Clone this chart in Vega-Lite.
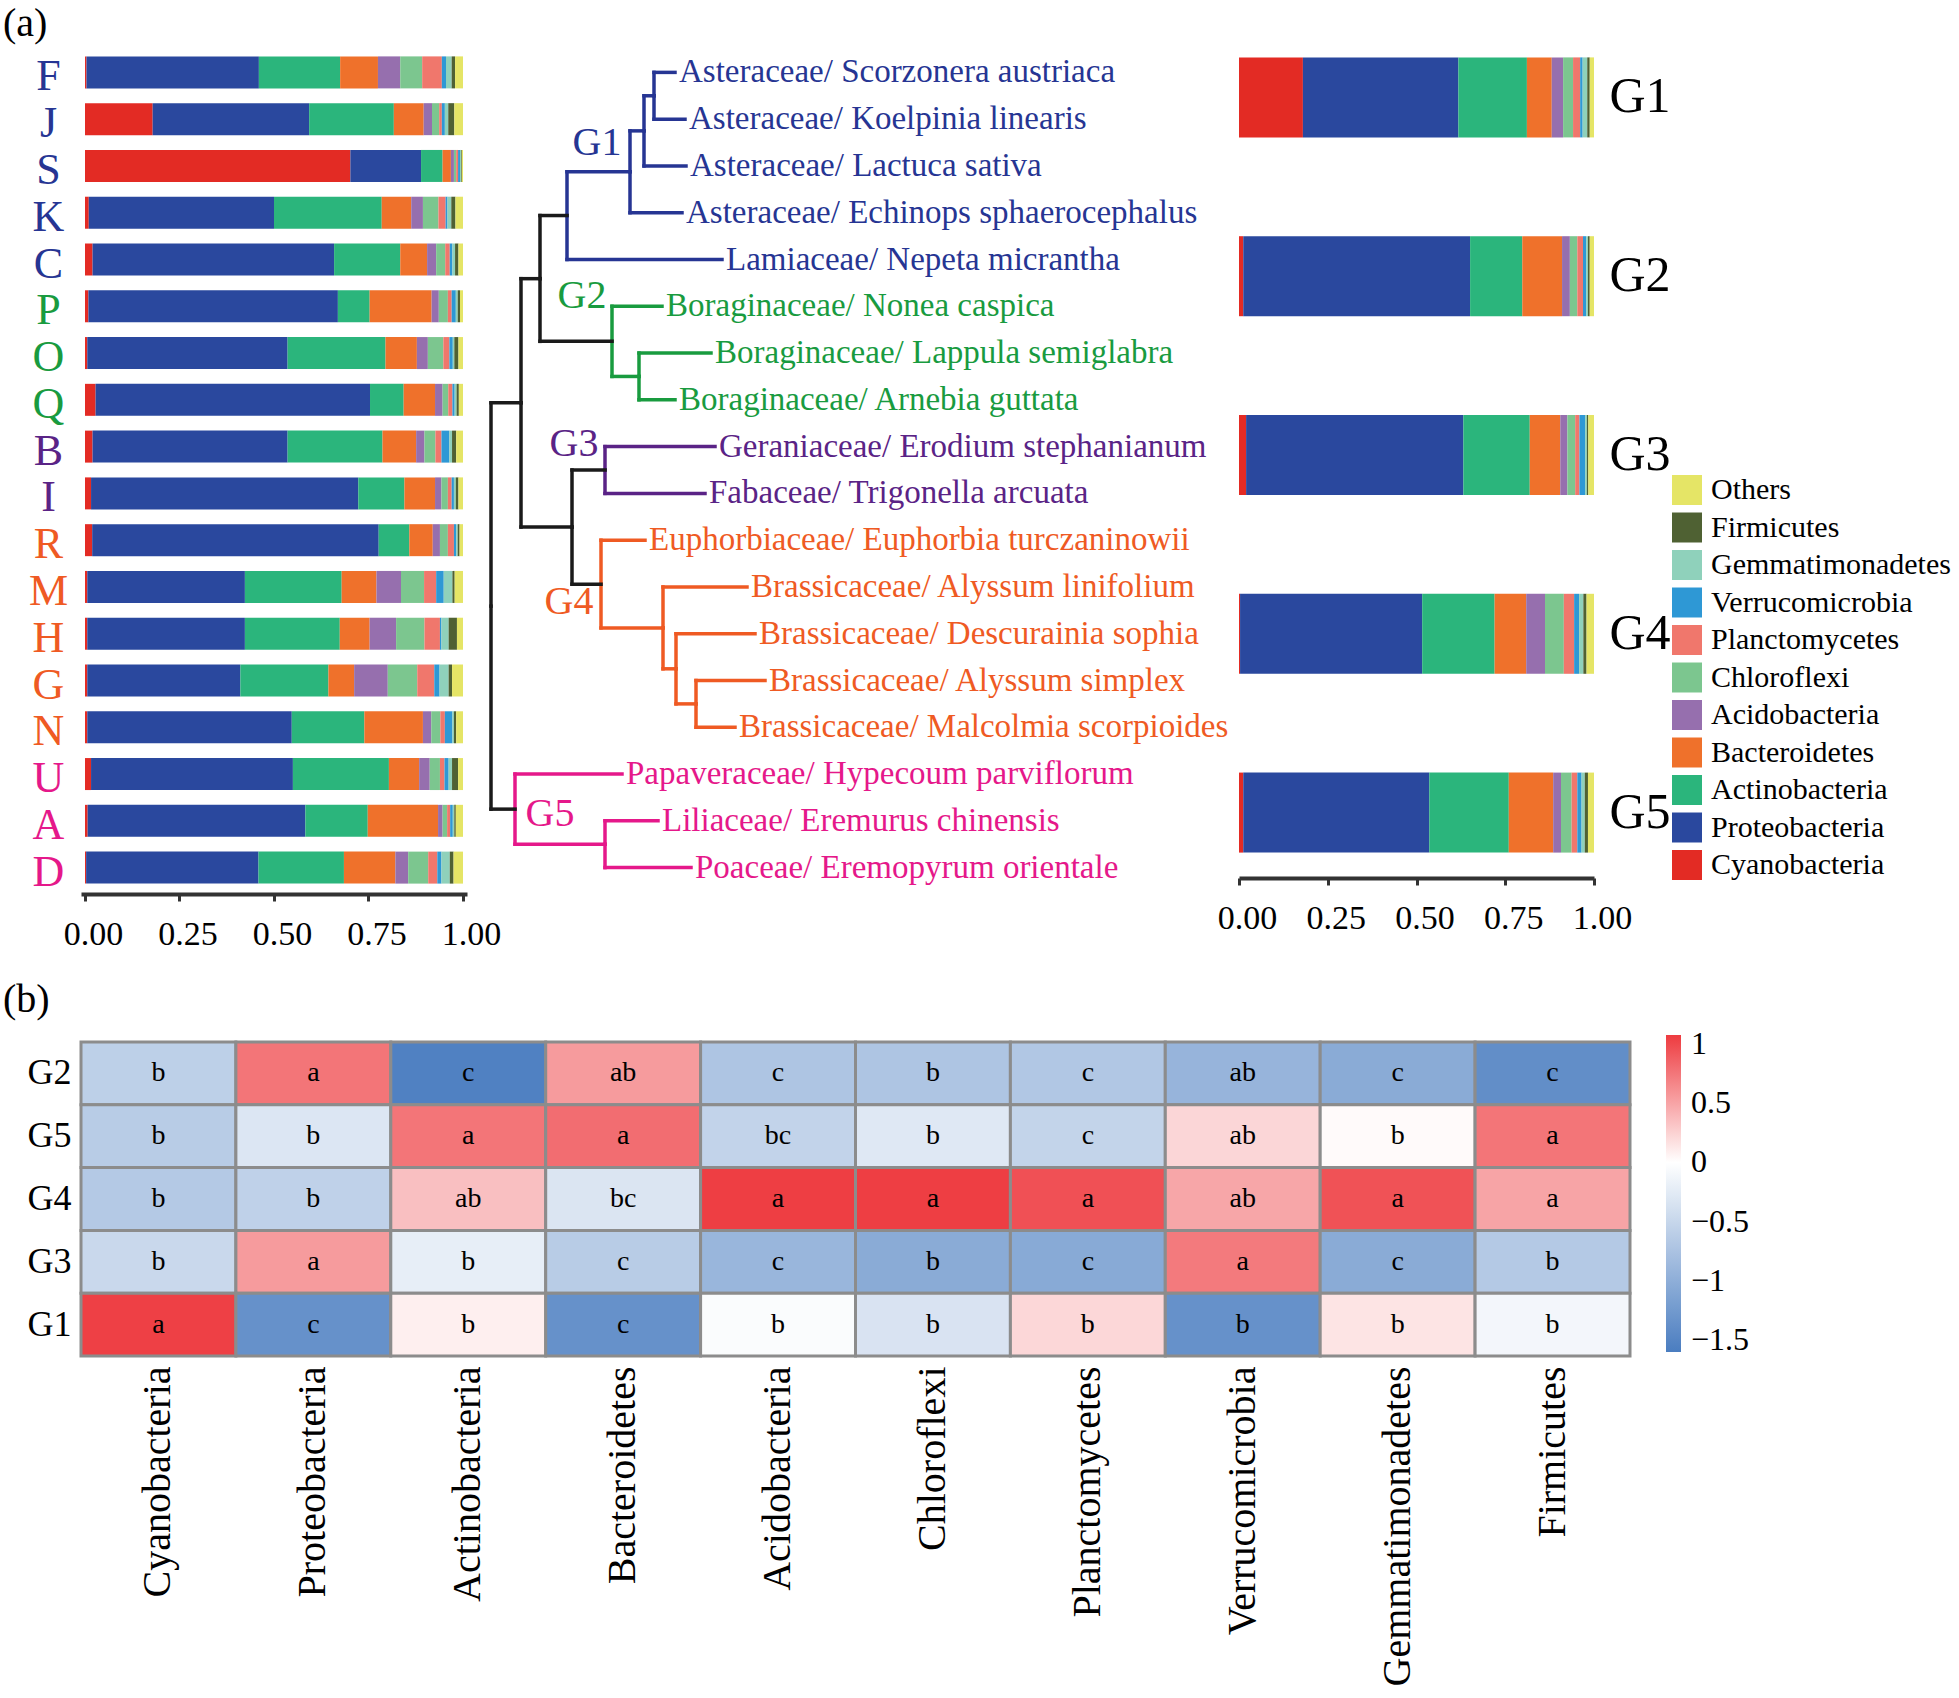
{
 "$schema": "https://vega.github.io/schema/vega-lite/v6.json",
 "background": "white",
 "padding": {"left": 3, "top": 4, "right": 0, "bottom": 0},
 "config": {
  "font": "Liberation Serif",
  "view": {"stroke": null},
  "axis": {"labelFont": "Liberation Serif", "labelColor": "#000000", "grid": false, "labelLimit": 500},
  "legend": {"labelFont": "Liberation Serif", "labelColor": "#000000", "labelLimit": 500},
  "title": {"font": "Liberation Serif", "fontWeight": "normal", "color": "#000000"}
 },
 "datasets": {
  "samples": [
   {"sample":"F","Cyanobacteria":0.004,"Proteobacteria":0.456,"Actinobacteria":0.215,"Bacteroidetes":0.100,"Acidobacteria":0.059,"Chloroflexi":0.058,"Planctomycetes":0.052,"Verrucomicrobia":0.011,"Gemmatimonadetes":0.015,"Firmicutes":0.009,"Others":0.021},
   {"sample":"J","Cyanobacteria":0.179,"Proteobacteria":0.414,"Actinobacteria":0.224,"Bacteroidetes":0.079,"Acidobacteria":0.022,"Chloroflexi":0.019,"Planctomycetes":0.007,"Verrucomicrobia":0.008,"Gemmatimonadetes":0.009,"Firmicutes":0.016,"Others":0.023},
   {"sample":"S","Cyanobacteria":0.702,"Proteobacteria":0.187,"Actinobacteria":0.057,"Bacteroidetes":0.022,"Acidobacteria":0.008,"Chloroflexi":0.006,"Planctomycetes":0.005,"Verrucomicrobia":0.005,"Gemmatimonadetes":0.003,"Firmicutes":0.002,"Others":0.003},
   {"sample":"K","Cyanobacteria":0.010,"Proteobacteria":0.490,"Actinobacteria":0.285,"Bacteroidetes":0.078,"Acidobacteria":0.031,"Chloroflexi":0.041,"Planctomycetes":0.019,"Verrucomicrobia":0.005,"Gemmatimonadetes":0.010,"Firmicutes":0.011,"Others":0.020},
   {"sample":"C","Cyanobacteria":0.020,"Proteobacteria":0.639,"Actinobacteria":0.175,"Bacteroidetes":0.071,"Acidobacteria":0.024,"Chloroflexi":0.024,"Planctomycetes":0.012,"Verrucomicrobia":0.007,"Gemmatimonadetes":0.007,"Firmicutes":0.009,"Others":0.012},
   {"sample":"P","Cyanobacteria":0.009,"Proteobacteria":0.660,"Actinobacteria":0.084,"Bacteroidetes":0.164,"Acidobacteria":0.019,"Chloroflexi":0.024,"Planctomycetes":0.010,"Verrucomicrobia":0.011,"Gemmatimonadetes":0.005,"Firmicutes":0.006,"Others":0.008},
   {"sample":"O","Cyanobacteria":0.006,"Proteobacteria":0.530,"Actinobacteria":0.259,"Bacteroidetes":0.083,"Acidobacteria":0.029,"Chloroflexi":0.041,"Planctomycetes":0.016,"Verrucomicrobia":0.009,"Gemmatimonadetes":0.004,"Firmicutes":0.011,"Others":0.012},
   {"sample":"Q","Cyanobacteria":0.028,"Proteobacteria":0.726,"Actinobacteria":0.089,"Bacteroidetes":0.083,"Acidobacteria":0.020,"Chloroflexi":0.015,"Planctomycetes":0.011,"Verrucomicrobia":0.006,"Gemmatimonadetes":0.005,"Firmicutes":0.006,"Others":0.011},
   {"sample":"B","Cyanobacteria":0.020,"Proteobacteria":0.516,"Actinobacteria":0.251,"Bacteroidetes":0.089,"Acidobacteria":0.022,"Chloroflexi":0.029,"Planctomycetes":0.016,"Verrucomicrobia":0.021,"Gemmatimonadetes":0.007,"Firmicutes":0.011,"Others":0.018},
   {"sample":"I","Cyanobacteria":0.016,"Proteobacteria":0.707,"Actinobacteria":0.122,"Bacteroidetes":0.081,"Acidobacteria":0.017,"Chloroflexi":0.017,"Planctomycetes":0.010,"Verrucomicrobia":0.006,"Gemmatimonadetes":0.005,"Firmicutes":0.007,"Others":0.012},
   {"sample":"R","Cyanobacteria":0.019,"Proteobacteria":0.758,"Actinobacteria":0.081,"Bacteroidetes":0.062,"Acidobacteria":0.019,"Chloroflexi":0.021,"Planctomycetes":0.016,"Verrucomicrobia":0.006,"Gemmatimonadetes":0.004,"Firmicutes":0.005,"Others":0.009},
   {"sample":"M","Cyanobacteria":0.006,"Proteobacteria":0.417,"Actinobacteria":0.256,"Bacteroidetes":0.092,"Acidobacteria":0.065,"Chloroflexi":0.061,"Planctomycetes":0.032,"Verrucomicrobia":0.020,"Gemmatimonadetes":0.023,"Firmicutes":0.006,"Others":0.022},
   {"sample":"H","Cyanobacteria":0.006,"Proteobacteria":0.417,"Actinobacteria":0.251,"Bacteroidetes":0.079,"Acidobacteria":0.070,"Chloroflexi":0.075,"Planctomycetes":0.041,"Verrucomicrobia":0.004,"Gemmatimonadetes":0.019,"Firmicutes":0.022,"Others":0.016},
   {"sample":"G","Cyanobacteria":0.006,"Proteobacteria":0.405,"Actinobacteria":0.233,"Bacteroidetes":0.068,"Acidobacteria":0.089,"Chloroflexi":0.078,"Planctomycetes":0.045,"Verrucomicrobia":0.014,"Gemmatimonadetes":0.024,"Firmicutes":0.009,"Others":0.029},
   {"sample":"N","Cyanobacteria":0.006,"Proteobacteria":0.541,"Actinobacteria":0.192,"Bacteroidetes":0.155,"Acidobacteria":0.022,"Chloroflexi":0.024,"Planctomycetes":0.012,"Verrucomicrobia":0.020,"Gemmatimonadetes":0.004,"Firmicutes":0.006,"Others":0.018},
   {"sample":"U","Cyanobacteria":0.016,"Proteobacteria":0.534,"Actinobacteria":0.254,"Bacteroidetes":0.080,"Acidobacteria":0.028,"Chloroflexi":0.027,"Planctomycetes":0.012,"Verrucomicrobia":0.011,"Gemmatimonadetes":0.009,"Firmicutes":0.016,"Others":0.013},
   {"sample":"A","Cyanobacteria":0.007,"Proteobacteria":0.576,"Actinobacteria":0.165,"Bacteroidetes":0.186,"Acidobacteria":0.012,"Chloroflexi":0.012,"Planctomycetes":0.008,"Verrucomicrobia":0.007,"Gemmatimonadetes":0.004,"Firmicutes":0.004,"Others":0.019},
   {"sample":"D","Cyanobacteria":0.003,"Proteobacteria":0.456,"Actinobacteria":0.226,"Bacteroidetes":0.136,"Acidobacteria":0.034,"Chloroflexi":0.053,"Planctomycetes":0.024,"Verrucomicrobia":0.011,"Gemmatimonadetes":0.022,"Firmicutes":0.010,"Others":0.025}
  ],
  "groups": [
   {"group":"G1","Cyanobacteria":0.180,"Proteobacteria":0.438,"Actinobacteria":0.193,"Bacteroidetes":0.070,"Acidobacteria":0.032,"Chloroflexi":0.028,"Planctomycetes":0.020,"Verrucomicrobia":0.007,"Gemmatimonadetes":0.013,"Firmicutes":0.007,"Others":0.012},
   {"group":"G2","Cyanobacteria":0.012,"Proteobacteria":0.639,"Actinobacteria":0.147,"Bacteroidetes":0.112,"Acidobacteria":0.022,"Chloroflexi":0.021,"Planctomycetes":0.016,"Verrucomicrobia":0.009,"Gemmatimonadetes":0.005,"Firmicutes":0.005,"Others":0.012},
   {"group":"G3","Cyanobacteria":0.020,"Proteobacteria":0.612,"Actinobacteria":0.187,"Bacteroidetes":0.086,"Acidobacteria":0.020,"Chloroflexi":0.022,"Planctomycetes":0.012,"Verrucomicrobia":0.016,"Gemmatimonadetes":0.005,"Firmicutes":0.004,"Others":0.016},
   {"group":"G4","Cyanobacteria":0.003,"Proteobacteria":0.513,"Actinobacteria":0.204,"Bacteroidetes":0.089,"Acidobacteria":0.053,"Chloroflexi":0.053,"Planctomycetes":0.029,"Verrucomicrobia":0.014,"Gemmatimonadetes":0.012,"Firmicutes":0.009,"Others":0.021},
   {"group":"G5","Cyanobacteria":0.012,"Proteobacteria":0.524,"Actinobacteria":0.224,"Bacteroidetes":0.125,"Acidobacteria":0.022,"Chloroflexi":0.030,"Planctomycetes":0.016,"Verrucomicrobia":0.012,"Gemmatimonadetes":0.009,"Firmicutes":0.009,"Others":0.017}
  ],
  "tree": [
   {"parentHeight":0,"parentOrder":11.41,"childHeight":30,"childOrder":7.065,"clade":"root"},
   {"parentHeight":0,"parentOrder":11.41,"childHeight":24,"childOrder":15.75,"clade":"root"},
   {"parentHeight":30,"parentOrder":7.065,"childHeight":49,"childOrder":4.41,"clade":"root"},
   {"parentHeight":30,"parentOrder":7.065,"childHeight":81,"childOrder":9.72,"clade":"root"},
   {"parentHeight":49,"parentOrder":4.41,"childHeight":76,"childOrder":3.06,"clade":"root"},
   {"parentHeight":49,"parentOrder":4.41,"childHeight":121,"childOrder":5.75,"clade":"root"},
   {"parentHeight":76,"parentOrder":3.06,"childHeight":139,"childOrder":2.125,"clade":"G1"},
   {"parentHeight":76,"parentOrder":3.06,"childHeight":231,"childOrder":4,"clade":"G1","label":"Lamiaceae/ Nepeta micrantha"},
   {"parentHeight":139,"parentOrder":2.125,"childHeight":153,"childOrder":1.25,"clade":"G1"},
   {"parentHeight":139,"parentOrder":2.125,"childHeight":191,"childOrder":3,"clade":"G1","label":"Asteraceae/ Echinops sphaerocephalus"},
   {"parentHeight":153,"parentOrder":1.25,"childHeight":163,"childOrder":0.5,"clade":"G1"},
   {"parentHeight":153,"parentOrder":1.25,"childHeight":195,"childOrder":2,"clade":"G1","label":"Asteraceae/ Lactuca sativa"},
   {"parentHeight":163,"parentOrder":0.5,"childHeight":184,"childOrder":0,"clade":"G1","label":"Asteraceae/ Scorzonera austriaca"},
   {"parentHeight":163,"parentOrder":0.5,"childHeight":194,"childOrder":1,"clade":"G1","label":"Asteraceae/ Koelpinia linearis"},
   {"parentHeight":121,"parentOrder":5.75,"childHeight":171,"childOrder":5,"clade":"G2","label":"Boraginaceae/ Nonea caspica"},
   {"parentHeight":121,"parentOrder":5.75,"childHeight":148,"childOrder":6.5,"clade":"G2"},
   {"parentHeight":148,"parentOrder":6.5,"childHeight":220,"childOrder":6,"clade":"G2","label":"Boraginaceae/ Lappula semiglabra"},
   {"parentHeight":148,"parentOrder":6.5,"childHeight":184,"childOrder":7,"clade":"G2","label":"Boraginaceae/ Arnebia guttata"},
   {"parentHeight":81,"parentOrder":9.72,"childHeight":114,"childOrder":8.5,"clade":"root"},
   {"parentHeight":81,"parentOrder":9.72,"childHeight":110,"childOrder":10.94,"clade":"root"},
   {"parentHeight":114,"parentOrder":8.5,"childHeight":224,"childOrder":8,"clade":"G3","label":"Geraniaceae/ Erodium stephanianum"},
   {"parentHeight":114,"parentOrder":8.5,"childHeight":214,"childOrder":9,"clade":"G3","label":"Fabaceae/ Trigonella arcuata"},
   {"parentHeight":110,"parentOrder":10.94,"childHeight":154,"childOrder":10,"clade":"G4","label":"Euphorbiaceae/ Euphorbia turczaninowii"},
   {"parentHeight":110,"parentOrder":10.94,"childHeight":172,"childOrder":11.875,"clade":"G4"},
   {"parentHeight":172,"parentOrder":11.875,"childHeight":256,"childOrder":11,"clade":"G4","label":"Brassicaceae/ Alyssum linifolium"},
   {"parentHeight":172,"parentOrder":11.875,"childHeight":185,"childOrder":12.75,"clade":"G4"},
   {"parentHeight":185,"parentOrder":12.75,"childHeight":264,"childOrder":12,"clade":"G4","label":"Brassicaceae/ Descurainia sophia"},
   {"parentHeight":185,"parentOrder":12.75,"childHeight":205,"childOrder":13.5,"clade":"G4"},
   {"parentHeight":205,"parentOrder":13.5,"childHeight":274,"childOrder":13,"clade":"G4","label":"Brassicaceae/ Alyssum simplex"},
   {"parentHeight":205,"parentOrder":13.5,"childHeight":244,"childOrder":14,"clade":"G4","label":"Brassicaceae/ Malcolmia scorpioides"},
   {"parentHeight":24,"parentOrder":15.75,"childHeight":131,"childOrder":15,"clade":"G5","label":"Papaveraceae/ Hypecoum parviflorum"},
   {"parentHeight":24,"parentOrder":15.75,"childHeight":114,"childOrder":16.5,"clade":"G5"},
   {"parentHeight":114,"parentOrder":16.5,"childHeight":167,"childOrder":16,"clade":"G5","label":"Liliaceae/ Eremurus chinensis"},
   {"parentHeight":114,"parentOrder":16.5,"childHeight":200,"childOrder":17,"clade":"G5","label":"Poaceae/ Eremopyrum orientale"}
  ],
  "heat": [
   {"group":"G2","phylum":"Cyanobacteria","z":-0.58,"sig":"b"},
   {"group":"G2","phylum":"Proteobacteria","z":0.76,"sig":"a"},
   {"group":"G2","phylum":"Actinobacteria","z":-1.55,"sig":"c"},
   {"group":"G2","phylum":"Bacteroidetes","z":0.55,"sig":"ab"},
   {"group":"G2","phylum":"Acidobacteria","z":-0.72,"sig":"c"},
   {"group":"G2","phylum":"Chloroflexi","z":-0.72,"sig":"b"},
   {"group":"G2","phylum":"Planctomycetes","z":-0.69,"sig":"c"},
   {"group":"G2","phylum":"Verrucomicrobia","z":-0.92,"sig":"ab"},
   {"group":"G2","phylum":"Gemmatimonadetes","z":-1.03,"sig":"c"},
   {"group":"G2","phylum":"Firmicutes","z":-1.39,"sig":"c"},
   {"group":"G5","phylum":"Cyanobacteria","z":-0.63,"sig":"b"},
   {"group":"G5","phylum":"Proteobacteria","z":-0.31,"sig":"b"},
   {"group":"G5","phylum":"Actinobacteria","z":0.76,"sig":"a"},
   {"group":"G5","phylum":"Bacteroidetes","z":0.80,"sig":"a"},
   {"group":"G5","phylum":"Acidobacteria","z":-0.54,"sig":"bc"},
   {"group":"G5","phylum":"Chloroflexi","z":-0.28,"sig":"b"},
   {"group":"G5","phylum":"Planctomycetes","z":-0.53,"sig":"c"},
   {"group":"G5","phylum":"Verrucomicrobia","z":0.225,"sig":"ab"},
   {"group":"G5","phylum":"Gemmatimonadetes","z":0.03,"sig":"b"},
   {"group":"G5","phylum":"Firmicutes","z":0.76,"sig":"a"},
   {"group":"G4","phylum":"Cyanobacteria","z":-0.66,"sig":"b"},
   {"group":"G4","phylum":"Proteobacteria","z":-0.57,"sig":"b"},
   {"group":"G4","phylum":"Actinobacteria","z":0.35,"sig":"ab"},
   {"group":"G4","phylum":"Bacteroidetes","z":-0.32,"sig":"bc"},
   {"group":"G4","phylum":"Acidobacteria","z":1.06,"sig":"a"},
   {"group":"G4","phylum":"Chloroflexi","z":1.06,"sig":"a"},
   {"group":"G4","phylum":"Planctomycetes","z":0.96,"sig":"a"},
   {"group":"G4","phylum":"Verrucomicrobia","z":0.49,"sig":"ab"},
   {"group":"G4","phylum":"Gemmatimonadetes","z":0.95,"sig":"a"},
   {"group":"G4","phylum":"Firmicutes","z":0.50,"sig":"a"},
   {"group":"G3","phylum":"Cyanobacteria","z":-0.48,"sig":"b"},
   {"group":"G3","phylum":"Proteobacteria","z":0.55,"sig":"a"},
   {"group":"G3","phylum":"Actinobacteria","z":-0.21,"sig":"b"},
   {"group":"G3","phylum":"Bacteroidetes","z":-0.63,"sig":"c"},
   {"group":"G3","phylum":"Acidobacteria","z":-0.90,"sig":"c"},
   {"group":"G3","phylum":"Chloroflexi","z":-1.03,"sig":"b"},
   {"group":"G3","phylum":"Planctomycetes","z":-1.05,"sig":"c"},
   {"group":"G3","phylum":"Verrucomicrobia","z":0.73,"sig":"a"},
   {"group":"G3","phylum":"Gemmatimonadetes","z":-1.03,"sig":"c"},
   {"group":"G3","phylum":"Firmicutes","z":-0.66,"sig":"b"},
   {"group":"G1","phylum":"Cyanobacteria","z":1.05,"sig":"a"},
   {"group":"G1","phylum":"Proteobacteria","z":-1.35,"sig":"c"},
   {"group":"G1","phylum":"Actinobacteria","z":0.09,"sig":"b"},
   {"group":"G1","phylum":"Bacteroidetes","z":-1.35,"sig":"c"},
   {"group":"G1","phylum":"Acidobacteria","z":-0.04,"sig":"b"},
   {"group":"G1","phylum":"Chloroflexi","z":-0.34,"sig":"b"},
   {"group":"G1","phylum":"Planctomycetes","z":0.22,"sig":"b"},
   {"group":"G1","phylum":"Verrucomicrobia","z":-1.35,"sig":"b"},
   {"group":"G1","phylum":"Gemmatimonadetes","z":0.15,"sig":"b"},
   {"group":"G1","phylum":"Firmicutes","z":-0.11,"sig":"b"}
  ]
 },
 "spacing": 29,
 "resolve": {"scale": {"color": "independent"}, "legend": {"color": "independent"}},
 "vconcat": [
  {
   "bounds": "flush",
   "spacing": 8,
   "resolve": {"scale": {"color": "independent"}, "legend": {"color": "independent"}},
   "hconcat": [
    {
     "width": 386, "height": 842,
     "title": {"text": "(a)", "anchor": "start", "frame": "group", "dx": -78, "offset": -35, "fontSize": 40, "baseline": "bottom"},
     "data": {"name": "samples"},
     "transform": [{"fold": ["Cyanobacteria","Proteobacteria","Actinobacteria","Bacteroidetes","Acidobacteria","Chloroflexi","Planctomycetes","Verrucomicrobia","Gemmatimonadetes","Firmicutes","Others"], "as": ["phylum","share"]}],
     "mark": {"type": "bar"},
     "encoding": {
      "y": {"field": "sample", "type": "nominal", "sort": null, "title": null,
       "scale": {"domain": ["F","J","S","K","C","P","O","Q","B","I","R","M","H","G","N","U","A","D"], "paddingInner": 0.316, "paddingOuter": 0.158},
       "axis": {"domain": false, "ticks": false, "tickSize": 0, "labelFontSize": 44, "labelAlign": "center", "labelPadding": 33, "labelBaseline": "middle", "labelOffset": 5,
        "labelColor": {"expr": "indexof(['F','J','S','K','C'], datum.value) >= 0 ? '#263593' : indexof(['P','O','Q'], datum.value) >= 0 ? '#199b3f' : indexof(['B','I'], datum.value) >= 0 ? '#5a2386' : indexof(['R','M','H','G','N'], datum.value) >= 0 ? '#ef5a23' : '#e5188a'"}}},
      "x": {"field": "share", "type": "quantitative", "stack": "zero", "title": null,
       "scale": {"domain": [0, 1], "nice": false, "padding": 4},
       "axis": {"values": [0, 0.25, 0.5, 0.75, 1], "format": ".2f", "domainWidth": 4, "domainColor": "#333333", "tickWidth": 3, "tickSize": 7, "tickColor": "#333333", "labelFontSize": 34, "labelPadding": 16, "labelOffset": 8, "labelFlush": false, "offset": 3, "grid": false}},
      "order": {"field": "sample"},
      "color": {"field": "phylum", "type": "nominal",
       "scale": {"domain": ["Cyanobacteria","Proteobacteria","Actinobacteria","Bacteroidetes","Acidobacteria","Chloroflexi","Planctomycetes","Verrucomicrobia","Gemmatimonadetes","Firmicutes","Others"],
        "range": ["#e32b24","#2a489e","#2bb57c","#ef712b","#966fae","#7cc68f","#f0776c","#2e98d5","#8fd1bb","#4f6133","#e5e566"]},
       "legend": null}
     }
    },
    {
     "width": 756, "height": 842,
     "data": {"name": "tree"},
     "layer": [
      {
       "mark": {"type": "rule", "strokeWidth": 3.5, "strokeCap": "square"},
       "encoding": {
        "x": {"field": "parentHeight", "type": "quantitative", "scale": {"domain": [-16, 740], "nice": false, "zero": false}, "axis": null},
        "y": {"field": "parentOrder", "type": "quantitative", "scale": {"domain": [-0.5, 17.5], "reverse": true, "nice": false, "zero": false}, "axis": null},
        "y2": {"field": "childOrder"},
        "color": {"field": "clade", "type": "nominal", "scale": {"domain": ["root","G1","G2","G3","G4","G5"], "range": ["#1a1a1a","#263593","#199b3f","#5a2386","#ef5a23","#e5188a"]}, "legend": null}
       }
      },
      {
       "mark": {"type": "rule", "strokeWidth": 3.5, "strokeCap": "square"},
       "encoding": {
        "x": {"field": "parentHeight", "type": "quantitative"},
        "x2": {"field": "childHeight"},
        "y": {"field": "childOrder", "type": "quantitative"},
        "color": {"field": "clade", "type": "nominal", "legend": null}
       }
      },
      {
       "transform": [{"filter": "isValid(datum.label)"}],
       "mark": {"type": "text", "align": "left", "baseline": "middle", "dx": 4, "fontSize": 33},
       "encoding": {
        "x": {"field": "childHeight", "type": "quantitative"},
        "y": {"field": "childOrder", "type": "quantitative"},
        "text": {"field": "label"},
        "color": {"field": "clade", "type": "nominal", "legend": null}
       }
      },
      {"data": {"values": [{}]}, "mark": {"type": "text", "fontSize": 40, "color": "#263593"}, "encoding": {"x": {"datum": 106, "type": "quantitative"}, "y": {"datum": 1.5, "type": "quantitative"}, "text": {"value": "G1"}}},
      {"data": {"values": [{}]}, "mark": {"type": "text", "fontSize": 40, "color": "#199b3f"}, "encoding": {"x": {"datum": 91, "type": "quantitative"}, "y": {"datum": 4.78, "type": "quantitative"}, "text": {"value": "G2"}}},
      {"data": {"values": [{}]}, "mark": {"type": "text", "fontSize": 40, "color": "#5a2386"}, "encoding": {"x": {"datum": 83, "type": "quantitative"}, "y": {"datum": 7.95, "type": "quantitative"}, "text": {"value": "G3"}}},
      {"data": {"values": [{}]}, "mark": {"type": "text", "fontSize": 40, "color": "#ef5a23"}, "encoding": {"x": {"datum": 78, "type": "quantitative"}, "y": {"datum": 11.33, "type": "quantitative"}, "text": {"value": "G4"}}},
      {"data": {"values": [{}]}, "mark": {"type": "text", "fontSize": 40, "color": "#e5188a"}, "encoding": {"x": {"datum": 59, "type": "quantitative"}, "y": {"datum": 15.85, "type": "quantitative"}, "text": {"value": "G5"}}}
     ]
    },
    {
     "width": 355, "height": 812,
     "data": {"name": "groups"},
     "transform": [{"fold": ["Cyanobacteria","Proteobacteria","Actinobacteria","Bacteroidetes","Acidobacteria","Chloroflexi","Planctomycetes","Verrucomicrobia","Gemmatimonadetes","Firmicutes","Others"], "as": ["phylum","share"]}],
     "mark": {"type": "bar"},
     "encoding": {
      "y": {"field": "group", "type": "nominal", "sort": null, "title": null,
       "scale": {"domain": ["G1","G2","G3","G4","G5"], "paddingInner": 0.5525, "paddingOuter": 0.047},
       "axis": {"orient": "right", "domain": false, "ticks": false, "tickSize": 0, "labelFontSize": 50, "labelPadding": 15, "labelBaseline": "middle"}},
      "x": {"field": "share", "type": "quantitative", "stack": "zero", "title": null,
       "scale": {"domain": [0, 1], "nice": false},
       "axis": {"values": [0, 0.25, 0.5, 0.75, 1], "format": ".2f", "domainWidth": 4, "domainColor": "#333333", "tickWidth": 3, "tickSize": 7, "tickColor": "#333333", "labelFontSize": 34, "labelPadding": 16, "labelOffset": 8, "labelFlush": false, "offset": 17, "grid": false}},
      "order": {"field": "group"},
      "color": {"field": "phylum", "type": "nominal",
       "scale": {"domain": ["Cyanobacteria","Proteobacteria","Actinobacteria","Bacteroidetes","Acidobacteria","Chloroflexi","Planctomycetes","Verrucomicrobia","Gemmatimonadetes","Firmicutes","Others"],
        "range": ["#e32b24","#2a489e","#2bb57c","#ef712b","#966fae","#7cc68f","#f0776c","#2e98d5","#8fd1bb","#4f6133","#e5e566"]},
       "legend": {"orient": "none", "legendX": 433, "legendY": 426, "title": null, "padding": 0,
        "values": ["Others","Firmicutes","Gemmatimonadetes","Verrucomicrobia","Planctomycetes","Chloroflexi","Acidobacteria","Bacteroidetes","Actinobacteria","Proteobacteria","Cyanobacteria"],
        "symbolType": "square", "symbolSize": 900, "symbolStrokeWidth": 0, "labelFontSize": 30, "labelOffset": 9, "rowPadding": 7.5}}
     }
    }
   ]
  },
  {
   "width": 1549, "height": 314,
   "title": {"text": "(b)", "anchor": "start", "frame": "group", "dx": -78, "offset": -25, "fontSize": 40, "baseline": "bottom"},
   "data": {"name": "heat"},
   "encoding": {
    "x": {"field": "phylum", "type": "nominal", "sort": null, "title": null,
     "scale": {"domain": ["Cyanobacteria","Proteobacteria","Actinobacteria","Bacteroidetes","Acidobacteria","Chloroflexi","Planctomycetes","Verrucomicrobia","Gemmatimonadetes","Firmicutes"], "paddingInner": 0, "paddingOuter": 0},
     "axis": {"labelAngle": -90, "domain": false, "ticks": false, "tickSize": 0, "labelFontSize": 40, "labelPadding": 10}},
    "y": {"field": "group", "type": "nominal", "sort": null, "title": null,
     "scale": {"domain": ["G2","G5","G4","G3","G1"], "paddingInner": 0, "paddingOuter": 0},
     "axis": {"domain": false, "ticks": false, "tickSize": 0, "labelFontSize": 36, "labelPadding": 10}}
   },
   "layer": [
    {
     "mark": {"type": "rect", "stroke": "#8c8c8c", "strokeWidth": 3},
     "encoding": {
      "color": {"field": "z", "type": "quantitative",
       "scale": {"type": "linear", "domain": [-1.6, 0, 1.076], "range": ["#4a7dc0", "#ffffff", "#ee3b40"], "interpolate": "rgb"},
       "legend": {"orient": "none", "legendX": 1585, "legendY": -7, "title": null, "direction": "vertical", "gradientLength": 317, "gradientThickness": 15, "values": [1, 0.5, 0, -0.5, -1, -1.5], "format": ".1~f", "labelFontSize": 32, "labelOffset": 10, "gradientStrokeWidth": 0, "padding": 0}}
     }
    },
    {
     "mark": {"type": "text", "fontSize": 28, "baseline": "middle", "color": "#000000"},
     "encoding": {"text": {"field": "sig"}}
    }
   ]
  }
 ]
}
